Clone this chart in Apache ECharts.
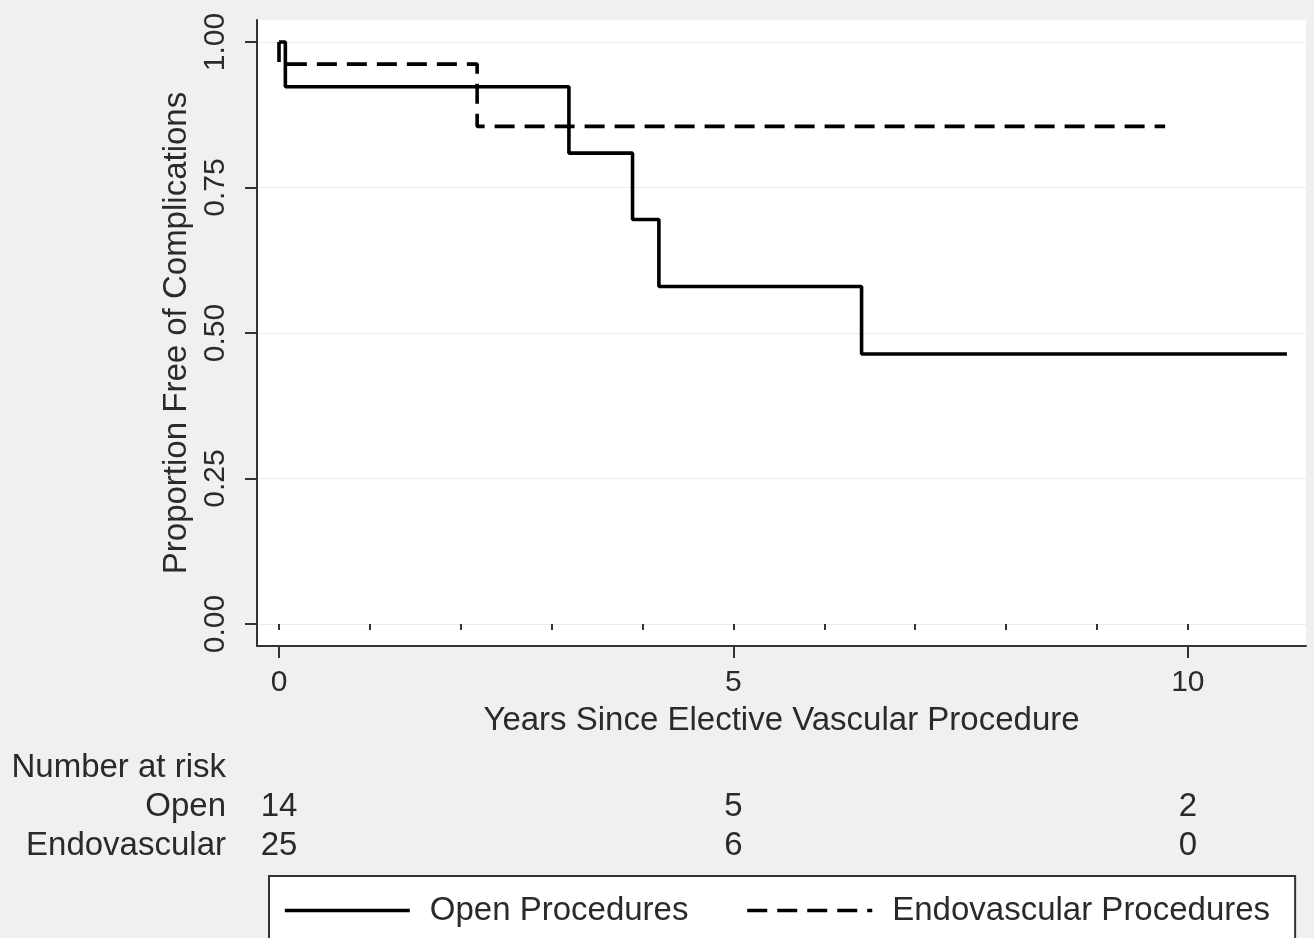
<!DOCTYPE html>
<html><head><meta charset="utf-8">
<script src="https://cdn.jsdelivr.net/npm/echarts@6/dist/echarts.min.js"></script>
<style>html,body{margin:0;padding:0;background:#f0f0f0;}#c{width:1314px;height:938px;}</style>
</head><body><div id="c"></div>
<script>
// Kaplan-Meier step points [years, proportion]
const openTimes = [0, 0.07, 3.19, 3.89, 4.18, 6.41, 11.09];
const openSurv  = [1.0, 0.923, 0.809, 0.695, 0.580, 0.464, 0.464];
const endoTimes = [0, 0, 2.18, 9.75];
const endoSurv  = [1.0, 0.962, 0.855, 0.855];
const yTicks = [0, 0.25, 0.5, 0.75, 1.0];
const xMajorTicks = [0, 5, 10];
const xMinorTicks = [0,1,2,3,4,5,6,7,8,9,10];
const riskRows = ['Number at risk', 'Open', 'Endovascular'];
const riskTimes = [0, 5, 10];
const openAtRisk = [14, 5, 2];
const endoAtRisk = [25, 6, 0];
const seriesNames = ['Open Procedures', 'Endovascular Procedures'];

const FONT = "'Liberation Sans', Arial, sans-serif";
const TXT = '#2a2a2a';
const X_MIN = -0.242, X_MAX = 11.3;
const Y_MIN = -0.0378, Y_MAX = 1.0378;

const chart = echarts.init(document.getElementById('c'), null, {renderer: 'canvas'});
const zip = (a, b) => a.map((v, i) => [v, b[i]]);
const riskLabel = {show: true, position: 'inside', formatter: p => String(p.value[2]),
  fontSize: 33, color: TXT, fontFamily: FONT, textBorderWidth: 0, opacity: 1};

chart.setOption({
  backgroundColor: '#f0f0f0',
  animation: false,
  textStyle: {fontFamily: FONT},
  grid: [
    {left: 257, right: 8, top: 20, bottom: 292, show: true, backgroundColor: '#ffffff', borderWidth: 0},
    {left: 257, right: 8, top: 748, height: 118, show: false}
  ],
  xAxis: [
    {type: 'value', gridIndex: 0, min: X_MIN, max: X_MAX,
     name: 'Years Since Elective Vascular Procedure', nameLocation: 'middle', nameGap: 58,
     nameTextStyle: {fontSize: 33, color: TXT, fontFamily: FONT},
     axisLine: {show: true, onZero: false, lineStyle: {color: '#333', width: 2}},
     axisTick: {show: true, customValues: xMajorTicks, length: 12, lineStyle: {color: '#333', width: 2}},
     axisLabel: {show: true, customValues: xMajorTicks, margin: 22, fontSize: 30, color: TXT, fontFamily: FONT},
     splitLine: {show: false}},
    {type: 'value', gridIndex: 0, min: X_MIN, max: X_MAX, position: 'bottom',
     axisLine: {show: false},
     axisTick: {show: true, customValues: xMinorTicks, length: 6, lineStyle: {color: '#333', width: 2}},
     axisLabel: {show: false}, splitLine: {show: false}},
    {type: 'value', gridIndex: 1, min: X_MIN, max: X_MAX, show: false}
  ],
  yAxis: [
    {type: 'value', gridIndex: 0, min: Y_MIN, max: Y_MAX,
     name: 'Proportion Free of Complications', nameLocation: 'middle', nameGap: 53,
     nameTextStyle: {fontSize: 33, color: TXT, fontFamily: FONT},
     axisLine: {show: true, onZero: false, lineStyle: {color: '#333', width: 2}},
     axisTick: {show: true, customValues: yTicks, length: 12, lineStyle: {color: '#333', width: 2}},
     axisLabel: {show: true, customValues: yTicks, rotate: 90, margin: 26, fontSize: 30, color: TXT, fontFamily: FONT,
       formatter: v => v.toFixed(2)},
     splitLine: {show: true, lineStyle: {color: '#ebebeb', width: 1}}},
    {type: 'category', gridIndex: 1, data: riskRows, inverse: true,
     axisLine: {show: false}, axisTick: {show: false}, splitLine: {show: false},
     axisLabel: {interval: 0, margin: 31, fontSize: 33, color: TXT, fontFamily: FONT}}
  ],
  legend: {
    data: seriesNames, orient: 'horizontal', left: 269, top: 876,
    padding: [18, 25, 40, 14], itemGap: 57, itemWidth: 125, itemHeight: 34,
    backgroundColor: '#ffffff', borderColor: '#333', borderWidth: 2, borderRadius: 0,
    itemStyle: {opacity: 0},
    lineStyle: {width: 3.6},
    textStyle: {fontSize: 33, color: TXT, fontFamily: FONT, padding: [0, 0, 0, 15]}
  },
  series: [
    {name: seriesNames[0], type: 'line', xAxisIndex: 0, yAxisIndex: 0, step: 'end',
     data: zip(openTimes, openSurv), symbol: 'none', showSymbol: false,
     lineStyle: {color: '#000', width: 3.6, type: 'solid'}, itemStyle: {color: '#000'}},
    {name: seriesNames[1], type: 'line', xAxisIndex: 0, yAxisIndex: 0, step: 'end',
     data: zip(endoTimes, endoSurv), symbol: 'none', showSymbol: false,
     lineStyle: {color: '#000', width: 3.6, type: [20, 10]}, itemStyle: {color: '#000'}},
    {name: 'riskOpen', type: 'scatter', xAxisIndex: 2, yAxisIndex: 1,
     data: riskTimes.map((t, i) => [t, 'Open', openAtRisk[i]]),
     symbolSize: 0, itemStyle: {color: TXT, opacity: 1}, silent: true, label: riskLabel},
    {name: 'riskEndo', type: 'scatter', xAxisIndex: 2, yAxisIndex: 1,
     data: riskTimes.map((t, i) => [t, 'Endovascular', endoAtRisk[i]]),
     symbolSize: 0, itemStyle: {color: TXT, opacity: 1}, silent: true, label: riskLabel}
  ]
});
</script></body></html>
